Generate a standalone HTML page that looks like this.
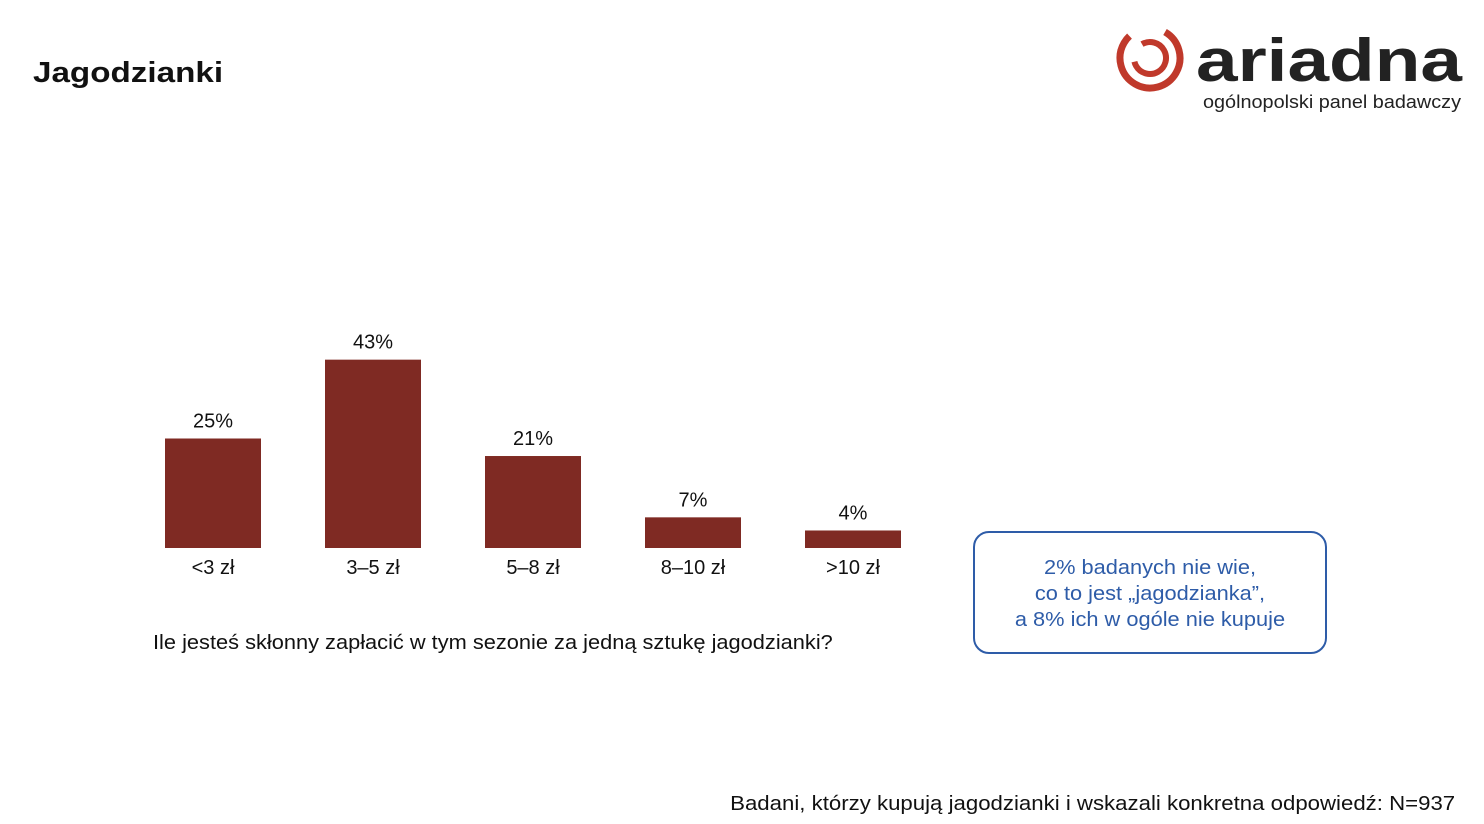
<!DOCTYPE html>
<html><head><meta charset="utf-8"><style>
body{margin:0;width:1484px;height:824px;background:#fff;font-family:"Liberation Sans",sans-serif;position:relative;overflow:hidden}
.t{position:absolute;white-space:nowrap}
</style></head><body>
<div class="t" style="left:33px;top:57px;font-size:29px;font-weight:bold;color:#111;transform:scaleX(1.145);transform-origin:left">Jagodzianki</div>
<svg style="position:absolute;left:1110px;top:15px" width="370" height="100">
<circle cx="40" cy="43" r="30" fill="none" stroke="#c0392b" stroke-width="7" stroke-dasharray="150 40" transform="rotate(-60 40 43)"/>
<circle cx="40" cy="43" r="16" fill="none" stroke="#c0392b" stroke-width="6" stroke-dasharray="80 21" transform="rotate(-120 40 43)"/>
<text x="86" y="66" font-family="Liberation Sans" font-weight="bold" font-size="60" fill="#222" textLength="266" lengthAdjust="spacingAndGlyphs">ariadna</text>
<text x="93" y="93" font-family="Liberation Sans" font-size="18" fill="#222" textLength="258" lengthAdjust="spacingAndGlyphs">ogólnopolski panel badawczy</text>
</svg>
<svg id="chart" style="position:absolute;left:0;top:0" width="1484" height="824"></svg>
<div class="t" style="left:153px;top:632px;font-size:20px;color:#111;transform:scaleX(1.09);transform-origin:left">Ile jesteś skłonny zapłacić w tym sezonie za jedną sztukę jagodzianki?</div>
<div style="position:absolute;left:973px;top:531px;width:354px;height:123px;border:2px solid #2e5ca8;border-radius:16px;box-sizing:border-box"></div>
<div style="position:absolute;left:973px;top:555px;width:354px;color:#2e5ca8;font-size:20px;text-align:center;line-height:26px;transform:scaleX(1.09)">2% badanych nie wie,<br>co to jest „jagodzianka”,<br>a 8% ich w ogóle nie kupuje</div>
<div class="t" style="right:29px;top:793px;font-size:20px;color:#111;transform:scaleX(1.11);transform-origin:right">Badani, którzy kupują jagodzianki i wskazali konkretna odpowiedź: N=937</div>
<script>
const categories=["<3 zł","3–5 zł","5–8 zł","8–10 zł",">10 zł"];
const values=[25,43,21,7,4];
const labels=["25%","43%","21%","7%","4%"];
const svg=document.getElementById('chart');
const NS='http://www.w3.org/2000/svg';
const base=548, scale=4.38, x0=165, step=160, bw=96;
const xPos=i=>x0+i*step;
const yPos=v=>base-v*scale;
values.forEach((v,i)=>{
 const r=document.createElementNS(NS,'rect');
 r.setAttribute('x',xPos(i));r.setAttribute('y',yPos(v));r.setAttribute('width',bw);r.setAttribute('height',base-yPos(v));r.setAttribute('fill','#7f2a23');
 
 
 svg.appendChild(r);
 const t=document.createElementNS(NS,'text');
 t.setAttribute('x',xPos(i)+bw/2);t.setAttribute('y',yPos(v)-11);t.setAttribute('text-anchor','middle');t.setAttribute('font-size','20');t.setAttribute('font-family','Liberation Sans');t.setAttribute('fill','#111');
 t.textContent=labels[i];
 
 
 svg.appendChild(t);
 const c=document.createElementNS(NS,'text');
 c.setAttribute('x',xPos(i)+bw/2);c.setAttribute('y',574);c.setAttribute('text-anchor','middle');c.setAttribute('font-size','20');c.setAttribute('font-family','Liberation Sans');c.setAttribute('fill','#111');
 c.textContent=categories[i];
 
 
 svg.appendChild(c);
});
</script>
</body></html>
